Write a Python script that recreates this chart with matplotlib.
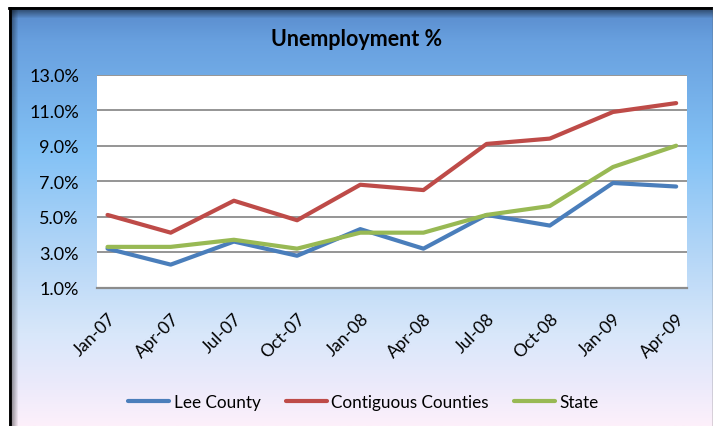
import numpy as np
import matplotlib
matplotlib.use("Agg")
import matplotlib.pyplot as plt
from matplotlib.colors import LinearSegmentedColormap
from matplotlib.lines import Line2D
from matplotlib.transforms import ScaledTranslation

# Quarterly unemployment rates (%)
quarters = ["Jan-07", "Apr-07", "Jul-07", "Oct-07", "Jan-08",
            "Apr-08", "Jul-08", "Oct-08", "Jan-09", "Apr-09"]
month_index = [0, 3, 6, 9, 12, 15, 18, 21, 24, 27]
lee_county = [3.2, 2.3, 3.6, 2.8, 4.3, 3.2, 5.1, 4.5, 6.9, 6.7]
contiguous = [5.1, 4.1, 5.9, 4.8, 6.8, 6.5, 9.1, 9.4, 10.9, 11.4]
state = [3.3, 3.3, 3.7, 3.2, 4.1, 4.1, 5.1, 5.6, 7.8, 9.0]
y_ticks = [1.0, 3.0, 5.0, 7.0, 9.0, 11.0, 13.0]

series = [("Lee County", lee_county, "#4a7ebb"),
          ("Contiguous Counties", contiguous, "#be4b48"),
          ("State", state, "#98b954")]

plt.rcParams["font.family"] = ["Lato", "DejaVu Sans"]

W, H = 713, 427
fig = plt.figure(figsize=(W / 100, H / 100), dpi=100)
fig.patch.set_facecolor("white")

# chart area: vertical gradient blue -> pale pink
bg = fig.add_axes([9 / W, 0, (W - 9) / W, (H - 8) / H])
bg_cmap = LinearSegmentedColormap.from_list("bg", [
    (0.00, "#588acb"), (0.08, "#68a0df"), (0.35, "#84c2f5"),
    (0.60, "#b6d7f7"), (0.78, "#d8e7fa"), (0.90, "#ebeafb"), (1.00, "#fdf0fa")])
grad = np.linspace(0, 1, 256).reshape(-1, 1)
bg.imshow(grad, aspect="auto", cmap=bg_cmap, extent=[0, 1, 0, 1], origin="upper")
# soft shadow along the top and left edges
shade = np.linspace(0.55, 0, 12).reshape(-1, 1)
bg.imshow(np.zeros((12, 1)), aspect="auto", cmap="gray", alpha=shade,
          extent=[0, 1, 1 - 12 / (H - 8), 1], origin="upper", vmin=0, vmax=1)
bg.imshow(np.zeros((1, 10)), aspect="auto", cmap="gray",
          alpha=np.linspace(0.55, 0, 10).reshape(1, -1),
          extent=[0, 10 / (W - 9), 0, 1], origin="upper", vmin=0, vmax=1)
bg.set_xlim(0, 1)
bg.set_ylim(0, 1)
bg.axis("off")
fig.add_artist(Line2D([9 / W, 1], [1 - 9 / H, 1 - 9 / H], color="black", lw=2))
fig.add_artist(Line2D([10 / W, 10 / W], [0, 1 - 9 / H], color="black", lw=2))
fig.add_artist(Line2D([1 - 0.5 / W, 1 - 0.5 / W], [0, 1 - 9 / H], color="#555555", lw=1))

ax = fig.add_axes([97 / W, 1 - 288.7 / H, 589.7 / W, 213 / H])
ax.set_facecolor("white")
for label, vals, color in series:
    ax.plot(month_index, vals, color=color, lw=3, label=label,
            solid_capstyle="round", zorder=3)

ax.set_xlim(-0.5, 27.5)
ax.set_ylim(1.0, 13.0)
ax.set_yticks(y_ticks)
ax.set_yticklabels([f"{v:.1f}%" for v in y_ticks])
ax.set_xticks(month_index)
ax.set_xticklabels(quarters, rotation=45, ha="right", rotation_mode="anchor")
shift = ScaledTranslation(3 / 100, 0, fig.dpi_scale_trans)
for lbl in ax.get_xticklabels():
    lbl.set_transform(lbl.get_transform() + shift)
ax.yaxis.grid(True, color="#8c8c8c", lw=1.3)
ax.set_axisbelow(True)
ax.tick_params(axis="y", length=0, pad=13, labelsize=13, labelcolor="black")
ax.tick_params(axis="x", length=0, pad=16, labelsize=12.5, labelcolor="black")
for side in ["top", "right", "left"]:
    ax.spines[side].set_visible(False)
ax.spines["bottom"].set_color("#8c8c8c")
ax.spines["bottom"].set_linewidth(1.6)

fig.text(0.5, 1 - 40 / H, "Unemployment %", ha="center", va="center",
         fontsize=15.5, fontweight="bold")

fig.legend(*ax.get_legend_handles_labels(), loc="center",
           bbox_to_anchor=(0.51, 1 - 403 / H), ncol=3, frameon=False,
           fontsize=12.3, handlelength=2.4, handletextpad=0.25, columnspacing=1.5)

fig.savefig("out.png", dpi=100)
